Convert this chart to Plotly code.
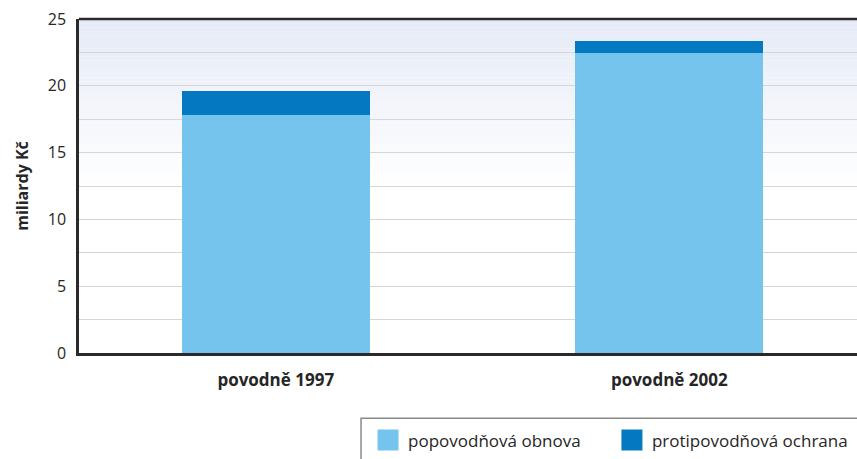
import plotly.graph_objects as go

categories = ["povodně 1997", "povodně 2002"]
obnova = [17.8, 22.45]      # popovodňová obnova
ochrana = [1.8, 0.9]        # protipovodňová ochrana
y_ticks = [0, 5, 10, 15, 20, 25]

LIGHT = "#75c4ee"
DARK = "#0479c1"
TEXT = "#262626"
FONT = "Open Sans"

fig = go.Figure()

fig.add_trace(go.Bar(x=categories, y=obnova, marker=dict(color=LIGHT, line_width=0),
                     width=0.478, showlegend=False, name="popovodňová obnova"))
fig.add_trace(go.Bar(x=categories, y=ochrana, marker=dict(color=DARK, line_width=0),
                     width=0.478, showlegend=False, name="protipovodňová ochrana"))

# legend entries with larger square swatches, one per legend box
for name, col, lg in [("popovodňová obnova", LIGHT, "legend"),
                      ("protipovodňová ochrana", DARK, "legend2")]:
    fig.add_trace(go.Scatter(x=[None], y=[None], mode="markers", name=name, legend=lg,
                             marker=dict(symbol="square", size=16, color=col,
                                         line=dict(color=col, width=5))))

# vertical gradient in the upper half of the plot: pale blue-grey at top fading to white
shapes = []
n = 40
top_rgb = (229, 234, 246)
g0 = 0.5
for i in range(n):
    f = (i + 0.5) / n  # 0 at the start of the fade, 1 at top
    r = int(round(255 + (top_rgb[0] - 255) * f))
    g = int(round(255 + (top_rgb[1] - 255) * f))
    b = int(round(255 + (top_rgb[2] - 255) * f))
    shapes.append(dict(type="rect", xref="x domain", yref="y domain",
                       x0=0, x1=1, y0=g0 + (1 - g0) * i / n, y1=g0 + (1 - g0) * (i + 1) / n,
                       fillcolor=f"rgb({r},{g},{b})", line_width=0, layer="below"))
# top frame line
shapes.append(dict(type="line", xref="x domain", yref="y domain", x0=0, x1=1, y0=1, y1=1,
                   line=dict(color="#2a2a2a", width=2.5), layer="above"))
# legend frame
shapes.append(dict(type="rect", xref="paper", yref="paper", x0=0.3625, x1=1.2, y0=-0.195, y1=-0.6,
                   line=dict(color="#8a8a8a", width=1.5), fillcolor="rgba(0,0,0,0)", layer="above"))

legend_common = dict(orientation="h", yanchor="middle", y=-0.262, xanchor="left",
                     bgcolor="rgba(0,0,0,0)", borderwidth=0,
                     font=dict(size=17, color=TEXT, family=FONT), itemsizing="trace")

fig.update_layout(
    width=857, height=459,
    margin=dict(l=79, r=0, t=19, b=106, autoexpand=False),
    barmode="stack",
    paper_bgcolor="white",
    plot_bgcolor="white",
    font=dict(family=FONT, color=TEXT, size=14),
    shapes=shapes,
    xaxis=dict(range=[-0.5, 1.477], showgrid=False, showline=True, linecolor="#2a2a2a",
               linewidth=2.5, ticks="", tickfont=dict(size=17, color=TEXT, family=FONT, weight="bold"),
               ticklabelstandoff=10),
    yaxis=dict(range=[0, 25], tickvals=y_ticks, showline=True, linecolor="#2a2a2a",
               linewidth=2.5, showgrid=True, gridcolor="#d3d6dc", gridwidth=1,
               minor=dict(dtick=2.5, showgrid=True, gridcolor="#d3d6dc", gridwidth=1),
               zeroline=False, ticks="", tickfont=dict(size=16, color=TEXT),
               ticklabelstandoff=7,
               title=dict(text="miliardy Kč", font=dict(size=16, color=TEXT, weight="bold"), standoff=16)),
    legend=dict(x=0.3715, **legend_common),
    legend2=dict(x=0.685, **legend_common),
)

fig.write_html("out.html")
